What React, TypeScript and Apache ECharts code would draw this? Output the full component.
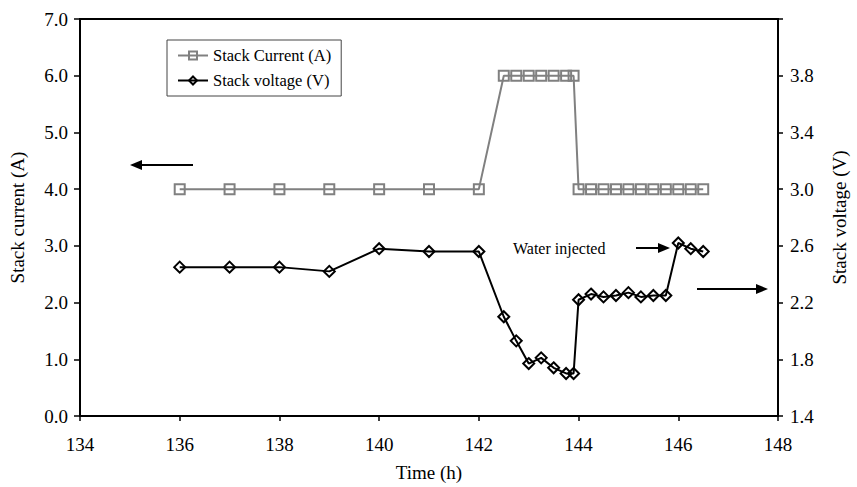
import React, { useEffect, useRef } from "react";
import * as echarts from "echarts";

// Sampling times (h)
const currentTimes = [
  136, 137, 138, 139, 140, 141, 142,
  142.5, 142.75, 143, 143.25, 143.5, 143.75, 143.9,
  144, 144.25, 144.5, 144.75, 145, 145.25, 145.5, 145.75, 146, 146.25, 146.5,
];
// Stack current (A)
const currentValues = [
  4.0, 4.0, 4.0, 4.0, 4.0, 4.0, 4.0,
  6.0, 6.0, 6.0, 6.0, 6.0, 6.0, 6.0,
  4.0, 4.0, 4.0, 4.0, 4.0, 4.0, 4.0, 4.0, 4.0, 4.0, 4.0,
];
const voltageTimes = currentTimes;
// Stack voltage (V)
const voltageValues = [
  2.45, 2.45, 2.45, 2.42, 2.58, 2.56, 2.56,
  2.10, 1.93, 1.77, 1.81, 1.74, 1.70, 1.70,
  2.22, 2.26, 2.24, 2.25, 2.27, 2.24, 2.25, 2.25, 2.62, 2.58, 2.56,
];

const FONT = "'Liberation Serif', 'DejaVu Serif', serif";

const pair = (xs: number[], ys: number[]) => xs.map((x, i) => [x, ys[i]]);

const arrow = (x1: number, y1: number, x2: number, y2: number) => {
  const dir = Math.sign(x2 - x1);
  return {
    type: "group",
    children: [
      {
        type: "line",
        shape: { x1, y1, x2: x2 - dir * 8, y2 },
        style: { stroke: "#000", lineWidth: 2 },
      },
      {
        type: "polygon",
        shape: {
          points: [
            [x2, y2],
            [x2 - dir * 12, y2 - 5],
            [x2 - dir * 12, y2 + 5],
          ],
        },
        style: { fill: "#000" },
      },
    ],
  };
};

export default function App() {
  const ref = useRef<HTMLDivElement>(null);

  useEffect(() => {
    if (!ref.current) return;
    const chart = echarts.init(ref.current, null, { renderer: "svg" });
    chart.setOption({
      animation: false,
      backgroundColor: "#fff",
      textStyle: { fontFamily: FONT },
      grid: {
        left: 79,
        right: 71,
        top: 19,
        bottom: 67,
        show: true,
        borderColor: "#000",
        borderWidth: 2,
      },
      legend: {
        orient: "vertical",
        left: 167,
        top: 40,
        padding: [7, 10, 7, 10],
        itemGap: 8,
        itemWidth: 30,
        itemHeight: 10,
        borderColor: "#444",
        borderWidth: 1,
        textStyle: { fontFamily: FONT, fontSize: 16.5, color: "#000" },
        data: ["Stack Current (A)", "Stack voltage (V)"],
      },
      xAxis: {
        type: "value",
        min: 134,
        max: 148,
        interval: 2,
        name: "Time (h)",
        nameLocation: "middle",
        nameGap: 47,
        nameTextStyle: { fontFamily: FONT, fontSize: 19, color: "#000" },
        axisLine: { lineStyle: { color: "#000", width: 2 } },
        axisTick: { show: true, inside: false, length: 5, lineStyle: { color: "#000", width: 1.5 } },
        axisLabel: { fontFamily: FONT, fontSize: 19, color: "#000", margin: 19 },
        splitLine: { show: false },
      },
      yAxis: [
        {
          type: "value",
          min: 0,
          max: 7,
          interval: 1,
          name: "Stack current (A)",
          nameLocation: "middle",
          nameGap: 53,
          nameTextStyle: { fontFamily: FONT, fontSize: 19, color: "#000" },
          axisLine: { show: true, lineStyle: { color: "#000", width: 2 } },
          axisTick: { show: true, length: 6, lineStyle: { color: "#000", width: 1.5 } },
          axisLabel: {
            fontFamily: FONT,
            fontSize: 19,
            color: "#000",
            margin: 12,
            formatter: (v: number) => v.toFixed(1),
          },
          splitLine: { show: false },
        },
        {
          type: "value",
          min: 1.4,
          max: 4.2,
          interval: 0.4,
          position: "right",
          name: "Stack voltage (V)",
          nameLocation: "middle",
          nameGap: 52,
          nameRotate: 90,
          nameTextStyle: { fontFamily: FONT, fontSize: 19, color: "#000" },
          axisLine: { show: true, lineStyle: { color: "#000", width: 2 } },
          axisTick: { show: true, length: 5, lineStyle: { color: "#000", width: 1.5 } },
          axisLabel: {
            fontFamily: FONT,
            fontSize: 19,
            color: "#000",
            margin: 12,
            formatter: (v: number) => (v > 4.1 ? "" : v.toFixed(1)),
          },
          splitLine: { show: false },
        },
      ],
      series: [
        {
          name: "Stack Current (A)",
          type: "line",
          yAxisIndex: 0,
          data: pair(currentTimes, currentValues),
          symbol: "rect",
          symbolSize: 10,
          lineStyle: { color: "#808080", width: 2 },
          itemStyle: { color: "rgba(255,255,255,0)", borderColor: "#808080", borderWidth: 2 },
        },
        {
          name: "Stack voltage (V)",
          type: "line",
          yAxisIndex: 1,
          data: pair(voltageTimes, voltageValues),
          symbol: "diamond",
          symbolSize: 11,
          lineStyle: { color: "#000", width: 2 },
          itemStyle: { color: "rgba(255,255,255,0)", borderColor: "#000", borderWidth: 2 },
        },
      ],
      graphic: [
        arrow(193, 165, 130, 165),
        arrow(636, 248, 670, 248),
        arrow(697, 289, 768, 289),
        {
          type: "text",
          x: 513,
          y: 248,
          style: {
            text: "Water injected",
            fontFamily: FONT,
            fontSize: 16,
            fill: "#000",
            verticalAlign: "middle",
          },
        },
      ],
    });
    return () => chart.dispose();
  }, []);

  return (
    <div
      ref={ref}
      style={{ position: "fixed", left: 0, top: 0, width: 857, height: 487 }}
    />
  );
}
